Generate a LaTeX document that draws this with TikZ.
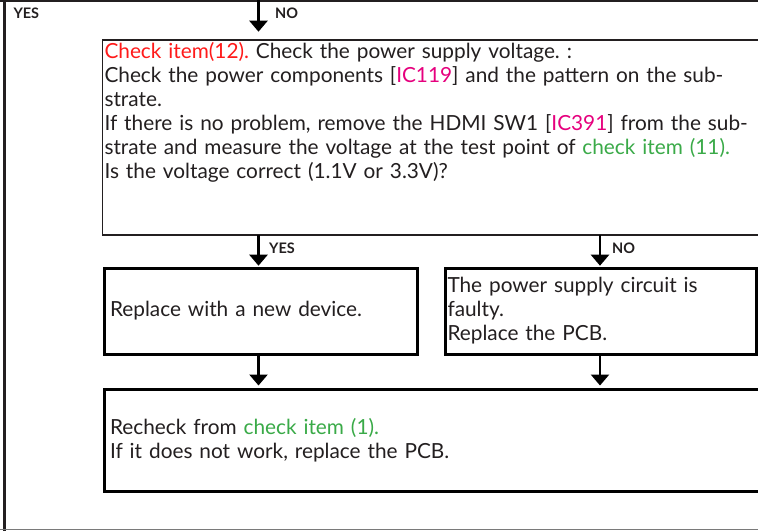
\documentclass[tikz,border=0pt]{standalone}
\usepackage{fontspec}
\setmainfont{Lato}
\usetikzlibrary{arrows.meta,positioning}
\definecolor{Ink}{HTML}{231F20}
\definecolor{ItemRed}{HTML}{FF1A1A}
\definecolor{PartMag}{HTML}{E6007E}
\definecolor{LinkGreen}{HTML}{3AAA48}
\definecolor{Frame}{HTML}{7A7A7A}
\newcommand{\itemref}[1]{\textcolor{ItemRed}{#1}}
\newcommand{\partref}[1]{\textcolor{PartMag}{#1}}
\newcommand{\linkref}[1]{\textcolor{LinkGreen}{#1}}
\frenchspacing

\begin{document}
\begin{tikzpicture}[x=1pt,y=-1pt,
  bodytext/.style={font=\fontsize{20.8}{24}\selectfont, text=Ink, align=left, outer sep=0pt},
  thinbox/.style={bodytext, draw=Ink, line width=1.2pt, inner xsep=2pt, inner ysep=2pt},
  thickbox/.style={bodytext, draw=black, line width=3pt},
  flowarr/.style={-{Triangle[width=18pt,length=11pt]}, line width=2.6pt, draw=black},
  lbl/.style={font=\bfseries\fontsize{14.5}{14.5}\selectfont, anchor=base west, text=Ink, inner sep=0pt}]
  \clip (0,0) rectangle (758,531);
  \fill[white] (0,0) rectangle (758,531);
  % frame
  \draw[Ink, line width=1.7pt] (0,0.85) -- (758,0.85);
  \draw[Ink, line width=2.6pt] (4.3,0) -- (4.3,531);
  \draw[Frame, line width=1.2pt] (0,529.4) -- (758,529.4);
  % columns of the arrows
  \coordinate (colY) at (258.5,0);
  \coordinate (colN) at (600,0);
  % boxes
  \node[thinbox, anchor=north west, text width=713pt, text height=16.7pt, text depth=174.3pt] (q12) at (102.5,40) {%
    \itemref{Check item(12).} Check the power supply voltage. :\\
    Check the power components [\partref{IC119}] and the pattern on the sub-\\
    strate.\\
    If there is no problem, remove the HDMI SW1 [\partref{IC391}] from the sub-\\
    strate and measure the voltage at the test point of \linkref{check item (11).}\\
    Is the voltage correct (1.1V or 3.3V)?};
  \node[thickbox, anchor=north west, minimum width=313.5pt, minimum height=86pt, text width=301.5pt, inner xsep=6pt] (rep) at (104,268) {Replace with a new device.};
  \node[thickbox, anchor=north west, minimum width=311.5pt, minimum height=86pt, text width=306.5pt, inner xsep=2.5pt] (pwr) at (445,268) {The power supply circuit is\\faulty.\\Replace the PCB.};
  \node[thickbox, anchor=north west, minimum width=760pt, minimum height=102pt, text width=748pt, inner xsep=6pt] (rchk) at (104,389) {Recheck from \linkref{check item (1).}\\If it does not work, replace the PCB.};
  % arrows
  \draw[flowarr, shorten >=8.3pt] (colY) -- (q12.north -| colY);
  \draw[flowarr, shorten >=2.3pt] (q12.south -| colY) -- (rep.north -| colY);
  \draw[flowarr, shorten >=2.3pt] (q12.south -| colN) -- (pwr.north -| colN);
  \draw[flowarr, shorten >=3.5pt] (rep.south -| colY) -- (rchk.north -| colY);
  \draw[flowarr, shorten >=3.5pt] (pwr.south -| colN) -- (rchk.north -| colN);
  % labels
  \node[lbl] (yes0) at (13.3,18.3) {YES};
  \node[lbl] (no0) at (275,18.3) {NO};
  \node[lbl] (yes1) at (269,253) {YES};
  \node[lbl] (no1) at (612,253) {NO};
\end{tikzpicture}
\end{document}
